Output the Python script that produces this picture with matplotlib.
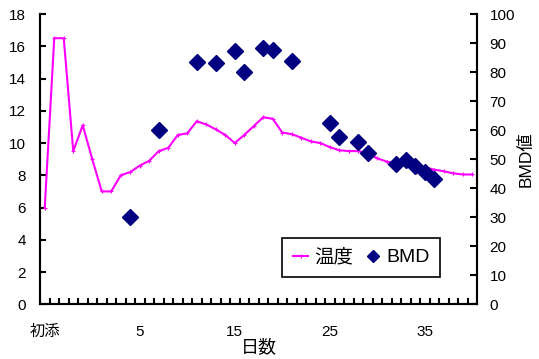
import numpy as np
import matplotlib
matplotlib.use("Agg")
import matplotlib.pyplot as plt
from matplotlib.ticker import FixedLocator, NullFormatter

plt.rcParams['font.family'] = ['Liberation Sans', 'Noto Sans CJK JP']

# category index 0..45, labels shown only at a few categories
tick_pos = [0, 10, 20, 30, 40]
tick_labels = ["初添", "5", "15", "25", "35"]

temp = [6.0, 16.5, 16.5, 9.5, 11.1, 9.0, 7.0, 7.0, 8.0, 8.2,
        8.6, 8.9, 9.5, 9.7, 10.5, 10.6, 11.35, 11.15, 10.85, 10.5,
        10.0, 10.5, 11.05, 11.6, 11.5, 10.65, 10.55, 10.33, 10.1, 10.0,
        9.75, 9.55, 9.5, 9.5, 9.35, 9.05, 8.85, 8.75, 8.65, 8.55,
        8.5, 8.35, 8.25, 8.12, 8.05, 8.05]

bmd_cat = [9, 12, 16, 18, 20, 21, 23, 24, 26, 30, 31, 33, 34, 37, 38, 39, 40, 41]
bmd_val = [30.2, 60.0, 83.5, 83.0, 87.4, 80.0, 88.2, 87.6, 83.8, 62.3, 57.5,
           56.0, 52.0, 48.3, 49.8, 47.8, 45.5, 43.0]

x = np.arange(len(temp))

fig = plt.figure(figsize=(5.39, 3.59), dpi=100)
ax = fig.add_axes([40 / 539, 54.7 / 359, 437 / 539, 290.3 / 359])
ax2 = ax.twinx()

l1, = ax.plot(x, temp, color="#FF00FF", lw=1.5, marker="+", ms=3, mew=0.8,
              label="温度")
l2, = ax2.plot(bmd_cat, bmd_val, ls="none", marker="D", ms=8,
               color="#000080", label="BMD")

ax.set_xlim(-0.5, len(temp) - 0.5)
ax.set_ylim(0, 18)
ax.set_yticks(np.arange(0, 19, 2))
ax2.set_ylim(0, 100)
ax2.set_yticks(np.arange(0, 101, 10))

ax.xaxis.set_major_locator(FixedLocator(tick_pos))
ax.set_xticklabels(tick_labels)
ax.xaxis.set_minor_locator(FixedLocator(np.arange(0.5, len(temp) - 0.5, 1)))
ax.xaxis.set_minor_formatter(NullFormatter())
ax.tick_params(axis="x", which="major", length=0, pad=15, labelsize=11)
ax.tick_params(axis="x", which="minor", direction="in", length=4, width=1.5)
ax.tick_params(axis="y", direction="in", length=4, width=1.5, pad=10, labelsize=11)
ax2.tick_params(axis="y", direction="in", length=5, width=1.5, pad=9, labelsize=11)

for a in (ax, ax2):
    a.spines["top"].set_visible(False)
    for s in ("left", "right", "bottom"):
        a.spines[s].set_linewidth(1.5)

ax.set_xlabel("日数", fontsize=13, labelpad=0)
ax2.set_ylabel("BMD値", fontsize=12.5, labelpad=2)

leg = ax2.legend([l1, l2], ["温度", "BMD"], ncol=2, loc="lower left",
                 bbox_to_anchor=(0.554, 0.094), borderaxespad=0, fontsize=14,
                 frameon=True, fancybox=False, framealpha=1, edgecolor="black",
                 handlelength=0.8, handletextpad=0.3, columnspacing=0.6,
                 borderpad=0.55, markerscale=0.8)
leg.get_frame().set_linewidth(1.2)

fig.savefig("out.png", dpi=100)
